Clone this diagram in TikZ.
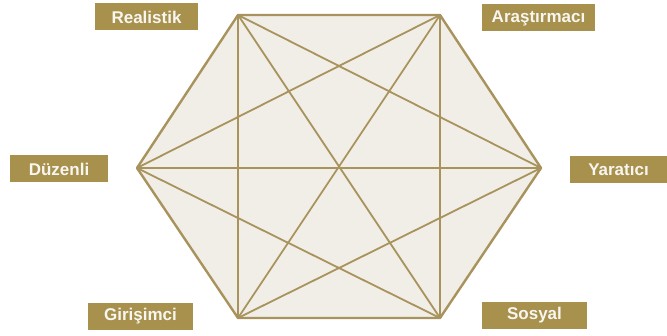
\documentclass[tikz,border=0pt]{standalone}
\usepackage{fontspec}
\setmainfont{Liberation Sans}
\definecolor{gold}{HTML}{A8914C}
\definecolor{lineg}{HTML}{A8935C}
\definecolor{hexfill}{HTML}{F1EEE7}
\begin{document}
\begin{tikzpicture}[x=1pt,y=-1pt,
  lbl/.style={fill=gold,text=white!92!gold,font=\bfseries\fontsize{17}{17}\selectfont,inner sep=0pt,minimum height=27pt},
  edge/.style={draw=lineg,line width=1.8pt}]
\useasboundingbox (0,0) rectangle (667,336);
\coordinate (tl) at (238,15);
\coordinate (tr) at (440,15);
\coordinate (r) at (541,168);
\coordinate (br) at (440,318);
\coordinate (bl) at (238,318);
\coordinate (l) at (137,168);
\fill[hexfill] (tl) -- (tr) -- (r) -- (br) -- (bl) -- (l) -- cycle;
\foreach \a/\b in {tl/br,tr/bl,l/r,tl/bl,tr/br,tl/r,tr/l,bl/r,br/l}
  \draw[edge] (\a) -- (\b);
\draw[edge,line width=2.4pt,line join=round] (tl) -- (tr) -- (r) -- (br) -- (bl) -- (l) -- cycle;
\node[lbl,minimum width=103pt] (n1) at (146.5,17) {Realistik};
\node[lbl,minimum width=113pt] (n2) at (538.5,18) {Araştırmacı};
\node[lbl,minimum width=98pt] (n3) at (59,169) {Düzenli};
\node[lbl,minimum width=97pt] (n4) at (618.5,170) {Yaratıcı};
\node[lbl,minimum width=105pt] (n5) at (140.5,316.5) {Girişimci};
\node[lbl,minimum width=105pt] (n6) at (534.5,315.5) {Sosyal};
\end{tikzpicture}
\end{document}
